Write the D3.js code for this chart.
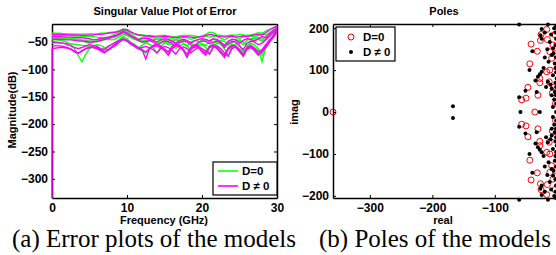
<!DOCTYPE html>
<html><head><meta charset="utf-8">
<script src="https://cdn.jsdelivr.net/npm/d3@7"></script>
<style>
body{margin:0;background:#fff;}
svg text{font-family:"Liberation Sans",Arial,sans-serif;}
</style></head>
<body><svg id="c" width="556" height="255"></svg>
<script>
// ---------- data: left chart (singular value of error, dB) ----------
const freq = d3.range(0, 30.001, 0.5); // frequency grid (GHz), 61 points
const freqDC = [0, 0.02].concat(freq.slice(1)); // grid of the curve that starts at DC
const xTicksA = [0, 10, 20, 30];
const yTicksA = [-50, -100, -150, -200, -250, -300];
const green1 = [-34,-34,-34,-34.5,-35,-35,-35,-35.5,-35.5,-35,-35,-35,-35,-34,-34,-33,-32,
  -31,-29,-26,-27,-31,-34,-36,-37,
  -38,-38,-39,-39,-38,-38,-39,-40,-40,-39,-38,-38,-38,-39,-40,-39,
  -36,-32,-33,-37,-38,-39,-38,-37,-38,-36,-37,-38,-37,-35,
  -33,-34,-30,-27,-24,-20];
const green2 = [-38,-38,-38,-38,-38,-38.5,-39,-39,-39.5,-40,-40,-40,-41,-42,-44,-42,-38,
  -35,-31,-28,-30,-35,-40,-44,-42,
  -41,-40,-42,-45,-43,-41,-42,-44,-46,-43,-41,-42,-45,-43,-41,-40,
  -40,-41,-39,-40,-43,-46,-42,-40,-41,-44,-40,-38,-39,-41,
  -38,-35,-37,-33,-28,-23];
const green3 = [-41,-41,-41.5,-42,-42,-43,-44,-45,-47,-50,-52,-50,-47,-45,-44,-45,-46,
  -44,-40,-35,-38,-42,-45,-48,-50,
  -52,-48,-46,-45,-47,-50,-55,-49,-46,-47,-52,-58,-50,-47,-48,-53,
  -56,-48,-45,-47,-52,-60,-50,-46,-45,-48,-55,-47,-44,-43,
  -42,-45,-40,-36,-30,-25];
const green4 = [-46,-46,-47,-48,-50,-54,-62,-75,-86,-72,-62,-57,-55,-56,-60,-66,-60,
  -52,-45,-40,-44,-50,-54,-60,-56,
  -52,-54,-60,-70,-58,-52,-51,-55,-62,-57,-53,-56,-66,-58,-54,-55,
  -60,-72,-57,-52,-54,-63,-74,-58,-53,-56,-68,-60,-52,-55,
  -62,-86,-60,-48,-38,-28];
const green5 = [-52,-52,-52,-52.5,-53,-53,-54,-55,-56,-57,-58,-60,-62,-64,-62,-58,-54,
  -50,-46,-44,-47,-52,-57,-62,-66,
  -70,-62,-57,-55,-58,-64,-72,-60,-55,-56,-62,-76,-60,-55,-56,-62,
  -68,-57,-54,-58,-66,-75,-60,-54,-56,-62,-70,-58,-55,-60,
  -66,-74,-58,-48,-40,-30];
const green6 = [-44,-44,-44,-44,-44.5,-45,-45,-46,-46,-47,-48,-48,-49,-48,-46,-44,-42,
  -40,-37,-33,-36,-40,-44,-46,-48,
  -47,-46,-48,-52,-50,-47,-46,-48,-53,-50,-47,-48,-51,-56,-50,-47,
  -46,-48,-52,-50,-47,-49,-55,-51,-48,-47,-50,-57,-49,-46,
  -45,-48,-44,-38,-32,-26];
const magenta1 = [-36,-36,-36,-36,-36.5,-37,-37,-37,-37.5,-37.5,-37,-37,-36,-36,-35,-34,-33,
  -32,-30,-27,-28,-32,-35,-37,-38,
  -39,-39,-40,-41,-40,-39,-40,-41,-42,-41,-40,-40,-41,-42,-41,-40,
  -38,-36,-37,-39,-40,-41,-40,-39,-41,-40,-39,-40,-38,-37,
  -36,-37,-33,-28,-24,-21];
const magenta2 = [-40,-40,-40,-40.5,-41,-41,-41.5,-42,-42,-43,-44,-46,-45,-43,-42,-41,-40,
  -38,-34,-30,-33,-38,-42,-46,-44,
  -43,-44,-47,-50,-46,-44,-45,-48,-52,-47,-45,-47,-52,-48,-45,-44,
  -45,-48,-44,-45,-50,-56,-48,-45,-46,-52,-47,-44,-45,-48,
  -44,-40,-42,-35,-29,-24];
const magenta3 = [-50,-50,-51,-52,-54,-57,-60,-62,-60,-57,-55,-56,-58,-62,-64,-58,-54,
  -50,-47,-45,-48,-53,-56,-60,-63,
  -81,-62,-56,-54,-57,-63,-68,-58,-54,-56,-64,-72,-60,-55,-57,-66,
  -70,-58,-55,-60,-68,-74,-61,-56,-58,-66,-73,-60,-57,-62,
  -68,-64,-55,-46,-38,-28];
// this curve has its own grid (freqDC): it starts at DC with a very low value
const magenta4 = [-335,-62,-61,-60,-60,-61,-63,-66,-70,-66,-62,-60,-59,-60,-63,-68,-64,-60,
  -56,-50,-45,-48,-54,-58,-62,-64,
  -68,-62,-58,-57,-60,-66,-74,-62,-57,-58,-65,-78,-63,-58,-59,-68,
  -74,-60,-57,-62,-70,-78,-63,-58,-60,-68,-76,-62,-58,-64,
  -72,-66,-58,-48,-40,-30];
const magenta5 = [-45,-45,-45,-45.5,-46,-46,-47,-48,-48,-49,-50,-50,-49,-47,-45,-43,-41,
  -39,-36,-32,-35,-39,-43,-47,-50,
  -49,-47,-50,-55,-52,-48,-49,-52,-57,-51,-48,-50,-55,-60,-51,-48,
  -49,-53,-50,-48,-52,-60,-53,-49,-50,-57,-64,-52,-48,-50,
  -55,-52,-46,-40,-33,-26];
const magenta6 = [-57,-57,-57,-58,-60,-63,-68,-71,-66,-62,-60,-60,-62,-66,-70,-64,-58,
  -53,-48,-44,-47,-52,-57,-62,-60,
  -58,-60,-64,-70,-62,-58,-60,-65,-72,-62,-59,-62,-70,-64,-60,-62,
  -66,-72,-60,-57,-62,-70,-76,-62,-59,-64,-75,-63,-60,-66,
  -74,-68,-60,-50,-42,-32];
const greenSeries = [green1, green2, green3, green4, green5, green6];
const magentaSeries = [magenta1, magenta2, magenta3, magenta4, magenta5, magenta6];
const magentaGrids = [freq, freq, freq, freqDC, freq, freq];

// ---------- data: right chart (poles) ----------
const xTicksB = [-300, -200, -100];
const yTicksB = [-200, -100, 0, 100, 200];
const polesD0Real = [-359,-36,
  -42,-44,-47,-50,-57,-32,-26,-27,-17,-17,-31,-28,-16,-28,-12,-13,-9,-7,-12,-4,-3,-5,-3,-8,
  -42,-44,-47,-50,-57,-32,-26,-27,-17,-17,-31,-28,-16,-28,-12,-13,-9,-7,-12,-4,-3,-5,-3,-8];
const polesD0Imag = [0,0,
  162,115,59,33,29,145,185,171,197,96,40,70,173,80,100,72,128,160,144,185,140,60,20,45,
  -162,-115,-59,-33,-29,-145,-185,-171,-197,-96,-40,-70,-173,-80,-100,-72,-128,-160,-144,-185,-140,-60,-20,-45];
const polesDnReal = [-59,-28,-2,
  -61,-167,-61,-51,-44.5,-40,-35,-28,-33,-25,-25,-27,-12,-6.7,-9,-4,-25,-31,-15,-9,-9,-4,-7,-15,
  -20,-10,-5,-3,-2,-3,-2,-1,-3,-2,-1,-3,-2,-18,-22,-20,-16,-14,-2,-5,-2,-7,-2,-11,-6,
  -61,-167,-61,-51,-44.5,-40,-35,-28,-33,-25,-25,-27,-12,-6.7,-9,-4,-25,-31,-15,-9,-9,-4,-7,-15,
  -20,-10,-5,-3,-2,-3,-2,-1,-3,-2,-1,-3,-2,-18,-22,-20,-16,-14,-2,-5,-2,-7,-2,-11,-6];
const polesDnImag = [0,0,0,
  209,14,35,51,100,145,75,90,48,198,175,183,167,152,136,116,96,84,72,56,40,48,88,209,
  190,185,200,190,175,160,130,115,105,95,80,70,60,60,105,130,150,120,40,30,20,12,205,65,140,
  -209,-14,-35,-51,-100,-145,-75,-90,-48,-198,-175,-183,-167,-152,-136,-116,-96,-84,-72,-56,-40,-48,-88,-209,
  -190,-185,-200,-190,-175,-160,-130,-115,-105,-95,-80,-70,-60,-60,-105,-130,-150,-120,-40,-30,-20,-12,-205,-65,-140];

// ---------- drawing ----------
const svg = d3.select("#c");
const tickFont = "bold 12px 'Liberation Sans', Arial, sans-serif";

function frame(g, x, y, xt, yt, drawRight) {
  const [x0, x1] = x.range(), [y1, y0] = y.range();
  const ax = g.append("g");
  ax.append("g").attr("transform", `translate(0,${y1})`)
    .call(d3.axisBottom(x).tickValues(xt).tickSize(-3).tickSizeOuter(0).tickPadding(5));
  ax.append("g").attr("transform", `translate(0,${y0})`)
    .call(d3.axisTop(x).tickValues(xt).tickSize(-3).tickSizeOuter(0).tickFormat(""));
  ax.append("g").attr("transform", `translate(${x0},0)`)
    .call(d3.axisLeft(y).tickValues(yt).tickSize(-3).tickSizeOuter(0).tickPadding(4));
  if (drawRight) ax.append("g").attr("transform", `translate(${x1},0)`)
    .call(d3.axisRight(y).tickValues(yt).tickSize(-3).tickSizeOuter(0).tickFormat(""));
  ax.selectAll("text").style("font", tickFont).attr("fill", "#000");
  ax.selectAll("line").attr("stroke", "#000").attr("stroke-width", 1);
  ax.selectAll(".domain").attr("stroke", "#000").attr("stroke-width", 1.5);
}

// ----- left chart -----
const xA = d3.scaleLinear([0, 30], [52, 277]);
const yA = d3.scaleLinear([-335, -17], [198, 24]);
const gA = svg.append("g");
svg.append("clipPath").attr("id", "clipA").append("rect")
  .attr("x", 51).attr("y", 24).attr("width", 226).attr("height", 174);
frame(gA, xA, yA, xTicksA, yTicksA, true);
const lineOn = grid => d3.line().x((d, i) => xA(grid[i])).y(d => yA(d));
const lines = gA.append("g").attr("clip-path", "url(#clipA)");
greenSeries.forEach(s => lines.append("path").attr("d", lineOn(freq)(s))
  .attr("fill", "none").attr("stroke", "#11ff11").attr("stroke-width", 1.4));
magentaSeries.forEach((s, k) => lines.append("path").attr("d", lineOn(magentaGrids[k])(s))
  .attr("fill", "none").attr("stroke", "#ff00ff").attr("stroke-width", 1.4));
gA.append("text").attr("x", 165).attr("y", 15).attr("text-anchor", "middle")
  .style("font", "bold 11px 'Liberation Sans', Arial").text("Singular Value Plot of Error");
gA.append("text").attr("x", 164).attr("y", 224).attr("text-anchor", "middle")
  .style("font", "bold 11px 'Liberation Sans', Arial").text("Frequency (GHz)");
gA.append("text").attr("transform", "translate(16,110) rotate(-90)").attr("text-anchor", "middle")
  .style("font", "bold 11px 'Liberation Sans', Arial").text("Magnitude(dB)");
// legend A
const legA = gA.append("g");
legA.append("rect").attr("x", 213).attr("y", 162).attr("width", 64).attr("height", 33)
  .attr("fill", "#fff").attr("stroke", "#000").attr("stroke-width", 1.2);
[["D=0", "#11ff11", 171], ["D \u2260 0", "#ff00ff", 186]].forEach(([t, c, yy]) => {
  legA.append("line").attr("x1", 218).attr("x2", 238).attr("y1", yy).attr("y2", yy)
    .attr("stroke", c).attr("stroke-width", 1.6);
  legA.append("text").attr("x", 242).attr("y", yy + 4).style("font", "bold 11.5px 'Liberation Sans', Arial").text(t);
});

// ----- right chart -----
const xB = d3.scaleLinear([-359, -0.5], [333, 557]);
const yB = d3.scaleLinear([-205, 210], [198, 24]);
const gB = svg.append("g");
gB.append("g").selectAll("circle").data(polesD0Real).join("circle")
  .attr("cx", d => xB(d)).attr("cy", (d, i) => yB(polesD0Imag[i])).attr("r", 3)
  .attr("fill", "none").attr("stroke", "#ff0000").attr("stroke-width", 1);
gB.append("g").selectAll("circle").data(polesDnReal).join("circle")
  .attr("cx", d => xB(d)).attr("cy", (d, i) => yB(polesDnImag[i])).attr("r", 2)
  .attr("fill", "#000");
frame(gB, xB, yB, xTicksB, yTicksB, false);
gB.append("text").attr("x", 444).attr("y", 15).attr("text-anchor", "middle")
  .style("font", "bold 11px 'Liberation Sans', Arial").text("Poles");
gB.append("text").attr("x", 443).attr("y", 224).attr("text-anchor", "middle")
  .style("font", "bold 11px 'Liberation Sans', Arial").text("real");
gB.append("text").attr("transform", "translate(298,112) rotate(-90)").attr("text-anchor", "middle")
  .style("font", "bold 11px 'Liberation Sans', Arial").text("imag");
const legB = gB.append("g");
legB.append("rect").attr("x", 336).attr("y", 27).attr("width", 59).attr("height", 34)
  .attr("fill", "#fff").attr("stroke", "#000").attr("stroke-width", 1.2);
legB.append("circle").attr("cx", 351).attr("cy", 37).attr("r", 3)
  .attr("fill", "none").attr("stroke", "#ff0000").attr("stroke-width", 1);
legB.append("text").attr("x", 363).attr("y", 41).style("font", "bold 11.5px 'Liberation Sans', Arial").text("D=0");
legB.append("circle").attr("cx", 351).attr("cy", 52).attr("r", 2).attr("fill", "#000");
legB.append("text").attr("x", 363).attr("y", 56).style("font", "bold 11.5px 'Liberation Sans', Arial").text("D \u2260 0");

// ----- captions -----
svg.append("text").attr("x", 12).attr("y", 247)
  .style("font", "25px 'Liberation Serif', 'Times New Roman', serif").text("(a) Error plots of the models");
svg.append("text").attr("x", 319).attr("y", 247)
  .style("font", "25px 'Liberation Serif', 'Times New Roman', serif").text("(b) Poles of the models");
</script></body></html>
